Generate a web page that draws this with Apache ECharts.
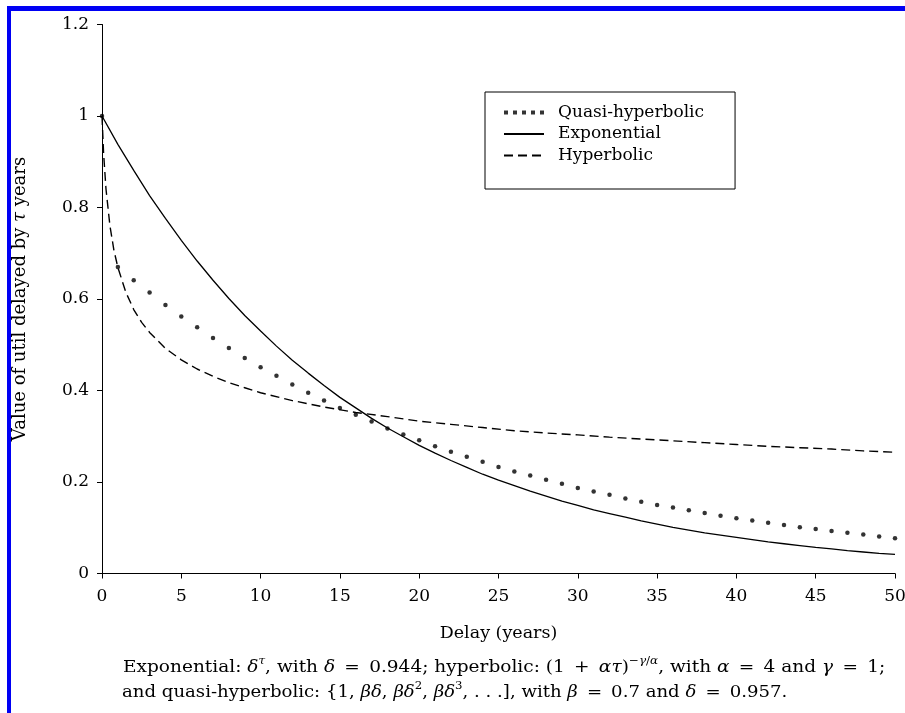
<!DOCTYPE html>
<html><head><meta charset="utf-8">
<script src="https://cdn.jsdelivr.net/npm/echarts@6/dist/echarts.min.js"></script>
<style>html,body{margin:0;padding:0;background:#fff}#c{width:905px;height:713px}</style>
</head><body><div id="c"></div>
<script>
const years = [0,1,2,3,4,5,6,7,8,9,10,11,12,13,14,15,16,17,18,19,20,21,22,23,24,25,26,27,28,29,30,31,32,33,34,35,36,37,38,39,40,41,42,43,44,45,46,47,48,49,50];
const quasiValues = [1,0.670,0.641,0.614,0.587,0.562,0.538,0.515,0.493,0.471,0.451,0.432,0.413,0.395,0.378,0.362,0.347,0.332,0.317,0.304,0.291,0.278,0.266,0.255,0.244,0.233,0.223,0.214,0.205,0.196,0.187,0.179,0.172,0.164,0.157,0.150,0.144,0.138,0.132,0.126,0.121,0.116,0.111,0.106,0.101,0.097,0.093,0.089,0.085,0.081,0.077];
const expValues = [1,0.938,0.881,0.826,0.776,0.728,0.683,0.641,0.601,0.564,0.530,0.497,0.466,0.438,0.411,0.385,0.362,0.339,0.318,0.299,0.280,0.263,0.247,0.232,0.217,0.204,0.192,0.180,0.169,0.158,0.149,0.139,0.131,0.123,0.115,0.108,0.101,0.095,0.089,0.084,0.079,0.074,0.069,0.065,0.061,0.057,0.054,0.050,0.047,0.044,0.042];
const hypDelays = [0,0.1,0.25,0.5,0.75,1,1.5,2,2.5,3,4,5,6,7,8,9,10,12,14,16,18,20,22,24,26,28,30,32,34,36,38,40,42,44,46,48,50];
const hypValues = [1,0.919,0.841,0.760,0.707,0.669,0.615,0.577,0.549,0.527,0.492,0.467,0.447,0.431,0.417,0.406,0.395,0.378,0.364,0.352,0.343,0.333,0.326,0.319,0.312,0.307,0.303,0.298,0.294,0.290,0.286,0.282,0.278,0.275,0.272,0.268,0.265];
const seriesNames = ['Quasi-hyperbolic','Exponential','Hyperbolic'];
const xTitle = 'Delay (years)';
const yTitle = 'Value of util delayed by {i|τ} years';
const captionLine1 = 'Exponential: {i|δ}{isup|τ}, with {i|δ}\u2002=\u20020.944; hyperbolic: (1\u2002+\u2002{i|ατ}){sup|−}{isup|γ}{sup|/}{isup|α}, with {i|α}\u2002=\u20024 and {i|γ}\u2002=\u20021;';
const captionLine2 = 'and quasi-hyperbolic: {1, {i|βδ}, {i|βδ}{sup|2}, {i|βδ}{sup|3}, . . .], with {i|β}\u2002=\u20020.7 and {i|δ}\u2002=\u20020.957.';

const FONT = 'DejaVu Serif';
const pair = (xs, ys) => xs.map((x, i) => [x, ys[i]]);
const richCap = {
  i: {fontStyle: 'italic', fontFamily: FONT, fontSize: 17},
  sup: {fontFamily: FONT, fontSize: 11, verticalAlign: 'top', lineHeight: 24},
  isup: {fontFamily: FONT, fontSize: 11, fontStyle: 'italic', verticalAlign: 'top', lineHeight: 24}
};
const chart = echarts.init(document.getElementById('c'), null, {renderer: 'canvas'});
chart.setOption({
  animation: false,
  backgroundColor: '#fff',
  grid: {left: 102, right: 10, top: 24.5, bottom: 139.5, outerBoundsMode: 'none', containLabel: false},
  xAxis: {
    type: 'value', min: 0, max: 50, interval: 5,
    name: xTitle, nameLocation: 'middle', nameGap: 51,
    nameTextStyle: {fontFamily: FONT, fontSize: 17.5, color: '#000'},
    axisLine: {lineStyle: {color: '#000', width: 1}},
    axisTick: {show: true, length: 5, lineStyle: {color: '#000'}},
    axisLabel: {fontFamily: FONT, fontSize: 17, color: '#000', margin: 15},
    splitLine: {show: false}
  },
  yAxis: {
    type: 'value', min: 0, max: 1.2, interval: 0.2,
    name: yTitle, nameLocation: 'middle', nameGap: 73, nameRotate: 90,
    nameTextStyle: {fontFamily: FONT, fontSize: 18, color: '#000', rich: {i: {fontStyle: 'italic', fontFamily: FONT, fontSize: 18}}},
    axisLine: {show: true, lineStyle: {color: '#000', width: 1}},
    axisTick: {show: true, length: 5, lineStyle: {color: '#000'}},
    axisLabel: {fontFamily: FONT, fontSize: 17, color: '#000', margin: 13},
    splitLine: {show: false}
  },
  legend: {
    left: 485, top: 92, orient: 'vertical',
    borderColor: '#000', borderWidth: 1,
    padding: [12, 31, 25, 18],
    itemWidth: 40, itemHeight: 14, itemGap: 4.5,
    textStyle: {fontFamily: FONT, fontSize: 17, color: '#000', padding: [0, 0, 0, 9]},
    data: [
      {name: seriesNames[0], icon: 'path://M0,0h4v4h-4zM9,0h4v4h-4zM18,0h4v4h-4zM27,0h4v4h-4zM36,0h4v4h-4z', itemStyle: {color: '#000'}},
      {name: seriesNames[1], itemStyle: {opacity: 0}},
      {name: seriesNames[2], itemStyle: {opacity: 0}}
    ]
  },
  graphic: [
    {type: 'rect', shape: {x: 7, y: 6, width: 898, height: 5}, style: {fill: '#0000f4'}},
    {type: 'rect', shape: {x: 7, y: 6, width: 4, height: 707}, style: {fill: '#0000f4'}},
    {type: 'text', x: 123, y: 656, scaleX: 1.09, style: {text: captionLine1, fontFamily: FONT, fontSize: 17, fill: '#000', rich: richCap}},
    {type: 'text', x: 122, y: 681, scaleX: 1.065, style: {text: captionLine2, fontFamily: FONT, fontSize: 17, fill: '#000', rich: richCap}}
  ],
  series: [
    {name: seriesNames[0], type: 'scatter', data: pair(years, quasiValues), symbol: 'circle', symbolSize: 4.5, itemStyle: {color: '#000'}},
    {name: seriesNames[1], type: 'line', data: pair(years, expValues), symbol: 'none', lineStyle: {color: '#000', width: 1.3}, itemStyle: {color: '#000'}},
    {name: seriesNames[2], type: 'line', data: pair(hypDelays, hypValues), symbol: 'none', lineStyle: {color: '#000', width: 1.4, type: [9, 5]}, itemStyle: {color: '#000'}}
  ]
});
</script></body></html>
